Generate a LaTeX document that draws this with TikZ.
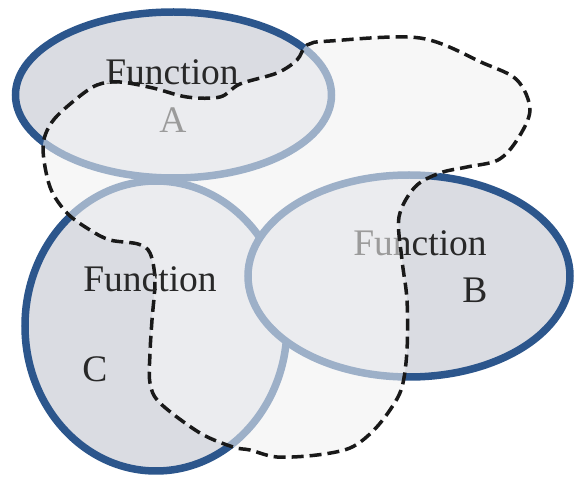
\documentclass[tikz,border=0pt]{standalone}
\usepackage{fontspec}
\setmainfont{Liberation Serif}
\usepackage{tikz}

\definecolor{funcdark}{RGB}{44,86,140}
\definecolor{funcfill}{RGB}{218,220,226}
\definecolor{blobfill}{RGB}{244,244,245}
\definecolor{functext}{RGB}{40,40,40}
\definecolor{veil}{RGB}{250,250,250}

\tikzset{
  funcring/.style={draw=funcdark, line width=7.5pt, fill=funcfill},
  functxt/.style={inner sep=0pt, anchor=base, text=functext, font=\fontsize{37.5}{42}\selectfont},
  blobline/.style={draw=black!90, line width=3.5pt, dash pattern=on 12pt off 6pt},
}

\newcommand{\blobpath}{plot[smooth cycle, tension=0.55] coordinates {
  (43,147) (52,122) (75,100) (97,85) (120,82) (153,88) (187,97) (220,97)
  (240,84) (277,73) (297,60) (307,45) (330,41) (420,38) (483,63) (517,80)
  (530,110) (517,140) (498,160) (467,167) (440,173) (415,187) (399,217)
  (402,260) (407,300) (407,350) (402,387) (390,410) (372,432) (350,448)
  (317,455) (277,457) (250,450) (233,447) (200,433) (160,403) (150,383)
  (150,353) (152,320) (155,280) (150,253) (138,244) (110,240) (90,230)
  (67,213) (50,187)}}

\begin{document}
\begin{tikzpicture}[x=1pt,y=1pt,yscale=-1]
\useasboundingbox (0,0) rectangle (574,481);

%Shape: blob background
\fill [blobfill] \blobpath;

%Shape: Ellipse C
\draw [funcring] (156,326) ellipse [x radius=131, y radius=145];
%Shape: Ellipse A
\draw [funcring] (173.5,95) ellipse [x radius=158, y radius=83];
%Shape: Ellipse B
\draw [funcring] (409,276) ellipse [x radius=161, y radius=101];

% Text Node
\node [functxt] (fa) at (172,85) {Function};
% Text Node
\node [functxt] (la) at (173,133) {A};
% Text Node
\node [functxt] (fb) at (420,256) {Function};
% Text Node
\node [functxt] (lb) at (475,303) {B};

%Shape: blob overlay
\fill [veil, fill opacity=0.55] \blobpath;
\draw [blobline] \blobpath;

% Text Node
\node [functxt] (fc) at (150,292) {Function};
% Text Node
\node [functxt] (lc) at (95,382) {C};
\end{tikzpicture}
\end{document}
